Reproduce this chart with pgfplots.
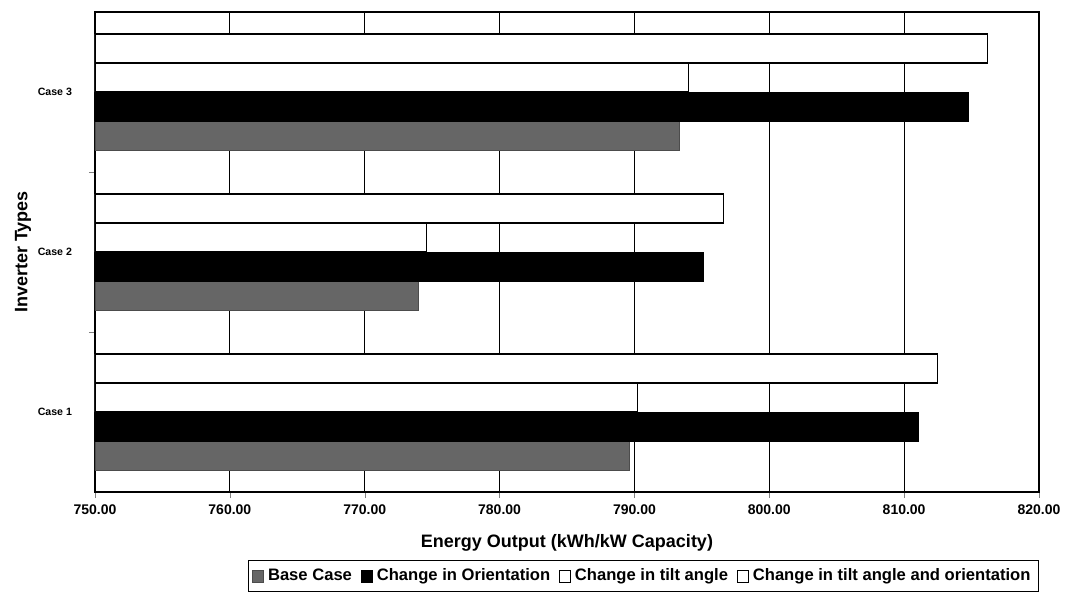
\documentclass[border=0pt]{standalone}
\usepackage{pgfplots}
\pgfplotsset{compat=1.18}
\usepackage{fontspec}
\setmainfont{Liberation Sans}
\begin{document}
\begin{tikzpicture}
\begin{axis}[
    width=472pt, height=240pt, scale only axis,
    xbar=0pt, bar width=14.5pt,
    xmin=750, xmax=820, xtick={750,760,...,820},
    ymin=0.5, ymax=3.5,
    ytick={1.5,2.5}, yticklabels={},
    extra y ticks={1,2,3},
    extra y tick labels={Case 1,Case 2,Case 3},
    extra y tick style={major tick length=0pt, grid=none},
    xtick pos=bottom, ytick pos=left,
    tick align=outside, major tick length=3pt,
    xmajorgrids, ymajorgrids=false,
    major grid style={black, line width=0.5pt},
    axis line style={black, line width=0.6pt},
    x tick label style={font=\fontsize{7}{8}\selectfont\bfseries,
        /pgf/number format/.cd, fixed, fixed zerofill, precision=2, 1000 sep={}, assume math mode=true},
    y tick label style={font=\fontsize{5.3}{6}\selectfont\bfseries, xshift=-8pt},
    xlabel={Energy Output (kWh/kW Capacity)},
    ylabel={Inverter Types},
    label style={font=\fontsize{9}{10}\selectfont\bfseries},
    xlabel style={yshift=-3pt},
    ylabel style={yshift=-6.5pt},
    legend style={at={(1.0,-0.142)}, anchor=north east, legend columns=4,
        draw=black, line width=0.5pt, inner sep=2pt,
        font=\fontsize{8.3}{10}\selectfont\bfseries,
        /tikz/every even column/.append style={column sep=2.5pt}},
    legend image code/.code={\draw[#1, line width=0.4pt] (0pt,-3pt) rectangle (5.5pt,3pt);},
]
\addplot[draw=black!70, fill=black!60, line width=0.4pt] coordinates {(789.6,1) (774.0,2) (793.3,3)};
\addlegendentry{Base Case}
\addplot[draw=black, fill=black, line width=0.5pt] coordinates {(811.1,1) (795.1,2) (814.8,3)};
\addlegendentry{Change in Orientation}
\addplot[draw=black, fill=white, line width=0.6pt] coordinates {(790.2,1) (774.6,2) (794.0,3)};
\addlegendentry{Change in tilt angle}
\addplot[draw=black, fill=white, line width=0.6pt] coordinates {(812.5,1) (796.6,2) (816.2,3)};
\addlegendentry{Change in tilt angle and orientation}
\coordinate (ll) at (rel axis cs:0,0);
\end{axis}
\path (ll) ++(-47.5pt,-54.5pt) rectangle ++(536pt,300.5pt);
\end{tikzpicture}
\end{document}
